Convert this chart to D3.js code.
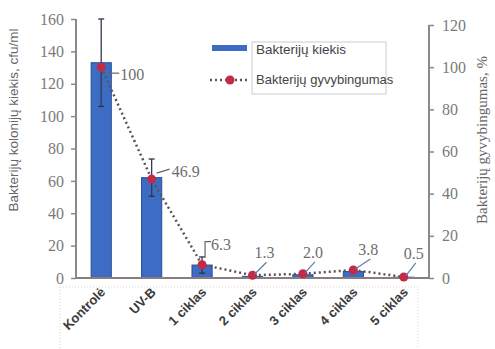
<!DOCTYPE html>
<html><head><meta charset="utf-8">
<script src="https://cdn.jsdelivr.net/npm/d3@7"></script>
<style>body{margin:0;background:#fff}svg{display:block}</style>
</head><body>
<svg id="c" width="495" height="349"></svg>
<script>
const categories = ["Kontrolė","UV-B","1 ciklas","2 ciklas","3 ciklas","4 ciklas","5 ciklas"];
const bacteriaCount = [133, 62, 8, 1, 2, 4, 0.5];
const countError = [27, 11.5, 5, 0, 0, 0, 0];
const viability = [100, 46.9, 6.3, 1.3, 2.0, 3.8, 0.5];
const viabilityLabels = ["100","46.9","6.3","1.3","2.0","3.8","0.5"];
const leftTicks = [0,20,40,60,80,100,120,140,160];
const rightTicks = [0,20,40,60,80,100,120];

const svg = d3.select("#c");
const L = 76, R = 429, T = 19, B = 278;
const x = d3.scaleBand().domain(categories).range([L, R]).paddingInner(0.6).paddingOuter(0.3);
const yL = d3.scaleLinear().domain([0,160]).range([B, T]);
const yR = d3.scaleLinear().domain([0,120]).range([B, 25]);
const cx = d => x(d) + x.bandwidth()/2;
const serif = "Liberation Serif, DejaVu Serif, serif";
const sans = "Liberation Sans, DejaVu Sans, sans-serif";

// x-label dotted box
svg.append("rect").attr("x",60).attr("y",287).attr("width",358).attr("height",70)
  .attr("fill","none").attr("stroke","#d8d8c8").attr("stroke-width",1).attr("stroke-dasharray","1,2");

// bars
svg.selectAll(".bar").data(categories).enter().append("rect")
  .attr("x", d => x(d)).attr("width", x.bandwidth())
  .attr("y", (d,i) => yL(bacteriaCount[i]))
  .attr("height", (d,i) => B - yL(bacteriaCount[i]))
  .attr("fill","#3c6cc4").attr("stroke","#2a4f98").attr("stroke-width",1);

// error bars
categories.forEach((c,i)=>{
  if(!countError[i]) return;
  const xc = cx(c), y1 = yL(bacteriaCount[i]+countError[i]), y2 = yL(bacteriaCount[i]-countError[i]);
  svg.append("line").attr("x1",xc).attr("x2",xc).attr("y1",y1).attr("y2",y2).attr("stroke","#333a55").attr("stroke-width",1.3);
  [y1,y2].forEach(yy=>svg.append("line").attr("x1",xc-3).attr("x2",xc+3).attr("y1",yy).attr("y2",yy).attr("stroke","#333").attr("stroke-width",1.3));
});

// axes
const axL = svg.append("g").attr("transform",`translate(${L},0)`)
  .call(d3.axisLeft(yL).tickValues(leftTicks).tickSize(5).tickPadding(7));
const axR = svg.append("g").attr("transform",`translate(${R},0)`)
  .call(d3.axisRight(yR).tickValues(rightTicks).tickSize(5).tickPadding(8));
[axL,axR].forEach(a=>{
  a.attr("font-family",serif).attr("font-size",16);
  a.select(".domain").attr("stroke","#8a8a8a").attr("stroke-width",2);
  a.selectAll(".tick line").attr("stroke","#8a8a8a").attr("stroke-width",1.5);
  a.selectAll(".tick text").attr("fill","#7a7a7a");
});
axL.select(".domain").attr("d",`M0,${T}V${B}`);
axR.select(".domain").attr("d",`M0,25V${B}`);
// baseline
svg.append("line").attr("x1",L).attr("x2",R).attr("y1",B).attr("y2",B).attr("stroke","#8a7d80").attr("stroke-width",2);

// viability line
const line = d3.line().x((d,i)=>cx(categories[i])).y(d=>yR(d));
svg.append("path").datum(viability).attr("d",line).attr("fill","none")
  .attr("stroke","#555").attr("stroke-width",2.5).attr("stroke-dasharray","2,3");
svg.selectAll(".pt").data(viability).enter().append("circle")
  .attr("cx",(d,i)=>cx(categories[i])).attr("cy",d=>yR(d)).attr("r",4.5)
  .attr("fill","#c42a45");

// data labels with leader lines (layout offsets)
const labOff = [[19,13],[20,-2],[9,-15],[2,-17],[0,-16],[5,-15],[0,-18]];
viability.forEach((v,i)=>{
  const px = cx(categories[i]), py = yR(v);
  const lx = px + labOff[i][0], ly = py + labOff[i][1];
  let path;
  if(i===0) path = `M${px+5},${py+6}L${lx-1},${py+6}`;
  else if(i===1) path = `M${px+5},${py-6}L${lx-2},${ly-8}`;
  else if(i===2) path = `M${px+3},${py-7}V${ly-8}H${lx}`;
  else path = `M${px+2},${py-1}L${lx+12},${ly+4}`;
  svg.append("path").attr("d",path).attr("fill","none").attr("stroke", i>=3?"#5a7fb0":"#666").attr("stroke-width",1.2);
  svg.append("text").attr("x",lx).attr("y",ly).text(viabilityLabels[i])
    .attr("fill","#6e6e6e").attr("font-family",serif).attr("font-size",16);
});

// x labels
categories.forEach(c=>{
  svg.append("text").attr("transform",`translate(${cx(c)+5},293) rotate(-45)`)
    .attr("text-anchor","end").text(c)
    .attr("fill","#3a3a3a").attr("font-family",sans).attr("font-size",13).attr("font-weight","bold");
});

// axis titles
svg.append("text").attr("transform","translate(18,120) rotate(-90)").attr("text-anchor","middle")
  .text("Bakterijų kolonijų kiekis, cfu/ml").attr("fill","#666").attr("font-family",sans).attr("font-size",13.5);
svg.append("text").attr("transform","translate(487,140) rotate(-90)").attr("text-anchor","middle")
  .text("Bakterijų gyvybingumas, %").attr("fill","#666").attr("font-family",serif).attr("font-size",15);

// legend
svg.append("rect").attr("x",252).attr("y",42).attr("width",134).attr("height",52)
  .attr("fill","#fff").attr("stroke","#c8ccd8").attr("stroke-width",1);
svg.append("rect").attr("x",212).attr("y",45).attr("width",35).attr("height",6).attr("fill","#3c6cc4");
svg.append("text").attr("x",256).attr("y",54).text("Bakterijų kiekis").attr("fill","#444").attr("font-family",sans).attr("font-size",13.5);
svg.append("line").attr("x1",210).attr("x2",250).attr("y1",80).attr("y2",80).attr("stroke","#555").attr("stroke-width",2.5).attr("stroke-dasharray","2,3");
svg.append("circle").attr("cx",230).attr("cy",80).attr("r",4.5).attr("fill","#c42a45");
svg.append("text").attr("x",256).attr("y",84).text("Bakterijų gyvybingumas").attr("fill","#444").attr("font-family",sans).attr("font-size",13);
</script>
</body></html>
